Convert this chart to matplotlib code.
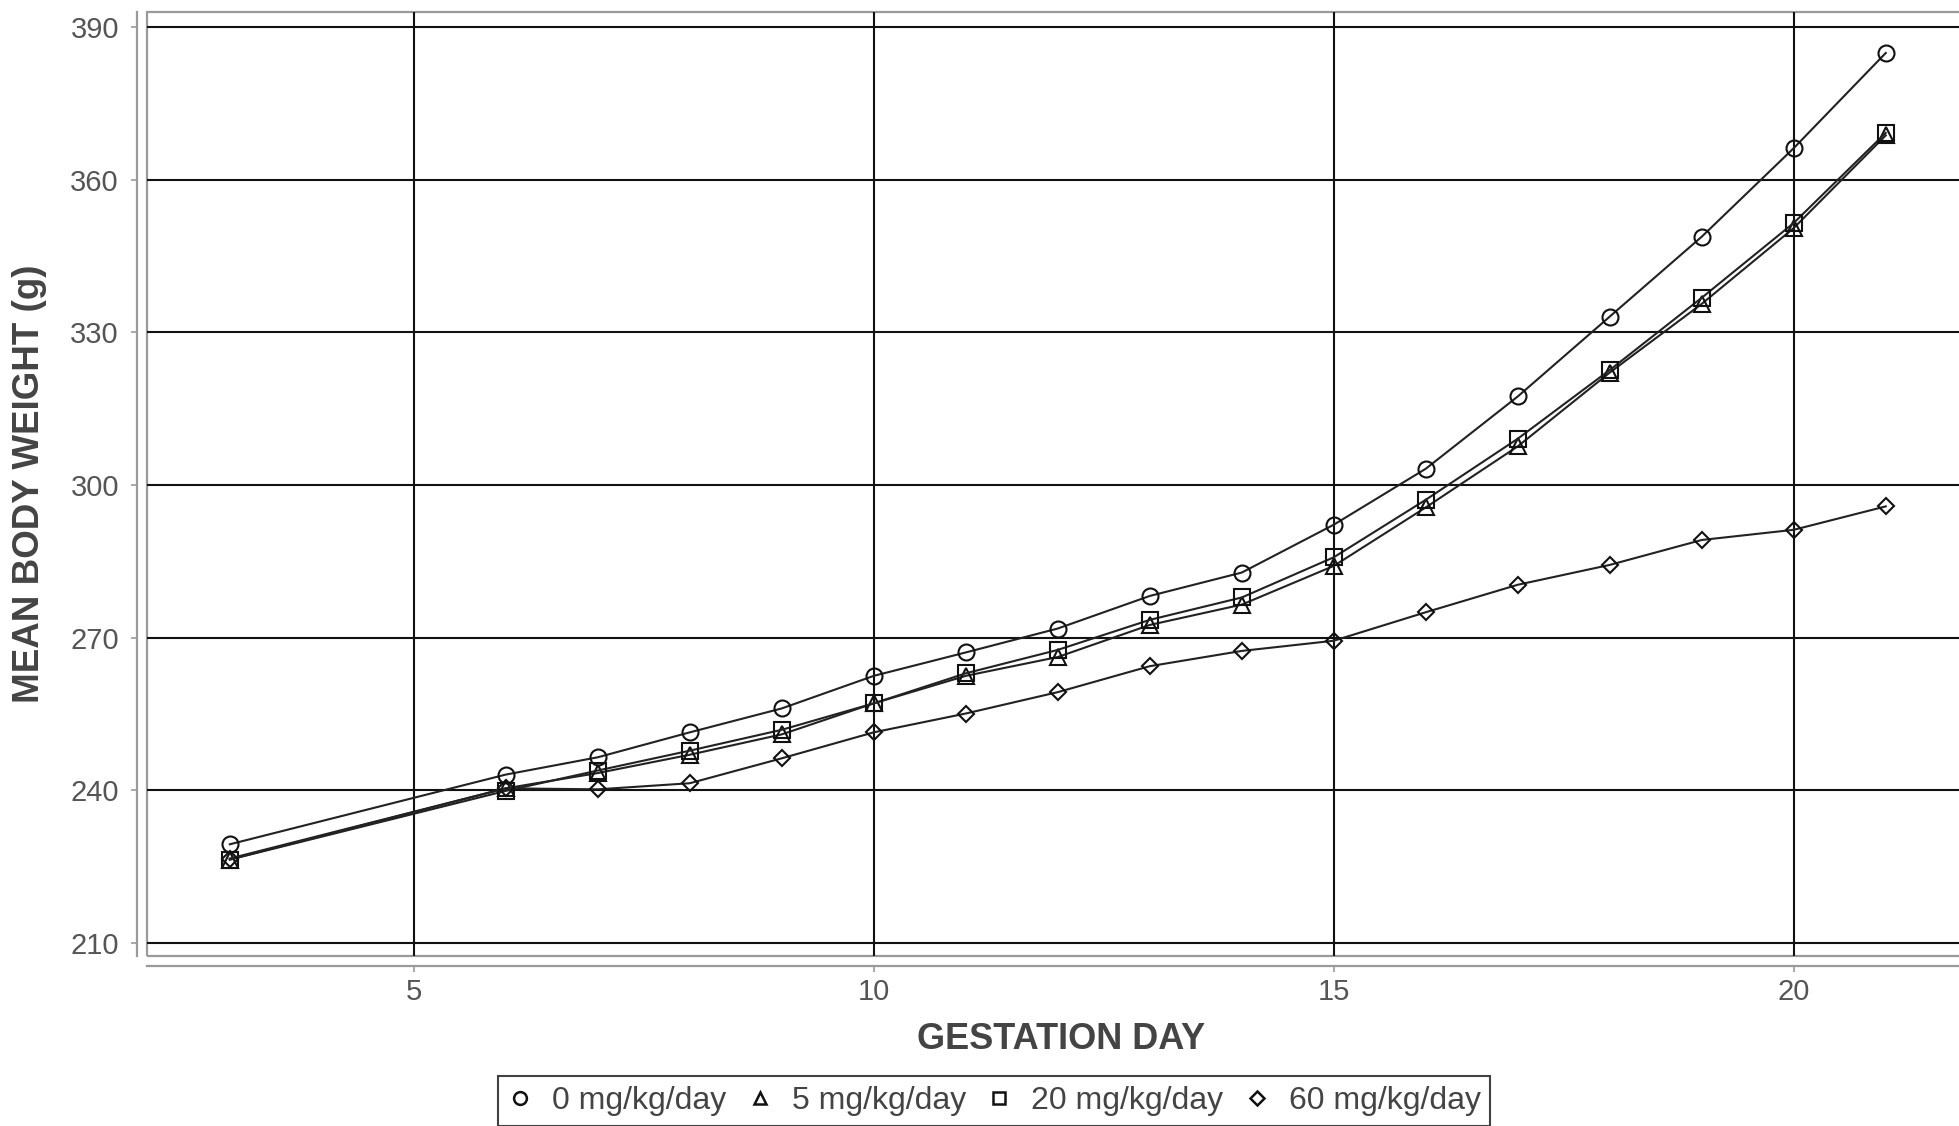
import matplotlib
matplotlib.use('Agg')
import matplotlib.pyplot as plt
from matplotlib.patches import Rectangle
from matplotlib.lines import Line2D

plt.rcParams['font.family'] = ['Liberation Sans', 'DejaVu Sans']

days = [3, 6, 7, 8, 9, 10, 11, 12, 13, 14, 15, 16, 17, 18, 19, 20, 21]
dose_labels = ['0 mg/kg/day', '5 mg/kg/day', '20 mg/kg/day', '60 mg/kg/day']
w_0 = [229.4, 243.1, 246.5, 251.4, 256.1, 262.5, 267.1, 271.8, 278.2, 282.8,
       292.2, 303.2, 317.4, 333.1, 348.8, 366.2, 384.9]
w_5 = [226.4, 240.4, 243.4, 247.0, 251.0, 257.1, 262.5, 266.2, 272.5, 276.5,
       284.1, 295.6, 307.6, 322.1, 335.6, 350.5, 368.7]
w_20 = [226.4, 239.9, 243.9, 247.8, 251.9, 257.1, 263.0, 267.6, 273.5, 277.9,
        285.8, 297.1, 309.1, 322.6, 336.8, 351.5, 369.2]
w_60 = [226.6, 240.4, 240.2, 241.4, 246.3, 251.4, 255.1, 259.3, 264.4, 267.4,
        269.4, 275.0, 280.4, 284.3, 289.2, 291.2, 295.8]
series = [w_0, w_5, w_20, w_60]
markers = ['o', '^', 's', 'D']
msizes = [11.5, 11, 11.5, 8.5]

x_ticks = [5, 10, 15, 20]
y_ticks = [210, 240, 270, 300, 330, 360, 390]

W, H = 1959, 1126
fig = plt.figure(figsize=(W / 100, H / 100), dpi=100)
left, right, top, bottom = 147, 1975, 12, 956
ax = fig.add_axes([left / W, 1 - bottom / H, (right - left) / W, (bottom - top) / H])

for vals, m, ms in zip(series, markers, msizes):
    ax.plot(days, vals, color='#222222', lw=1.5, marker=m, ms=ms,
            markerfacecolor='none', markeredgecolor='#111111', markeredgewidth=1.5,
            zorder=3)

ax.set_xlim(2.1, 21.97)
ax.set_ylim(207.45, 392.95)
ax.set_xticks(x_ticks)
ax.set_yticks(y_ticks)
ax.grid(True, color='#111111', lw=1.5, zorder=1)
ax.set_axisbelow(True)

grey = '#9a9a9a'
for s in ['top', 'right']:
    ax.spines[s].set_visible(False)
ax.add_patch(Rectangle((0, 0), 1, 1, transform=ax.transAxes, fill=False,
                       edgecolor=grey, lw=1.6, clip_on=False, zorder=0.5))
for s in ['left', 'bottom']:
    ax.spines[s].set_position(('outward', 7.2))
    ax.spines[s].set_color(grey)
    ax.spines[s].set_linewidth(1.6)

ax.tick_params(axis='both', colors=grey, labelcolor='#555555', labelsize=21,
               length=4, width=1.2)
ax.tick_params(axis='y', pad=9)
ax.tick_params(axis='x', pad=5)

ax.set_xlabel('GESTATION DAY', fontsize=26, fontweight='bold', color='#444444',
              labelpad=11)
fig.text(30 / W, 1 - 484 / H, 'MEAN BODY WEIGHT (g)', rotation=90, fontsize=26.5,
         fontweight='bold', color='#444444', ha='center', va='center')

handles = [Line2D([], [], ls='none', marker=m, ms=s * 0.8, markerfacecolor='none',
                  markeredgecolor='#111111', markeredgewidth=1.8)
           for m, s in zip(markers, msizes)]
leg = fig.legend(handles, dose_labels, loc='center', ncol=4,
                 bbox_to_anchor=(994 / W, 1 - 1101 / H), frameon=True,
                 fancybox=False, edgecolor='#111111', fontsize=23,
                 handlelength=0.8, handletextpad=0.6, columnspacing=0.65,
                 borderpad=0.3, borderaxespad=0.0, labelcolor='#444444')
leg.get_frame().set_linewidth(1.5)

fig.savefig('out.png', dpi=100)
